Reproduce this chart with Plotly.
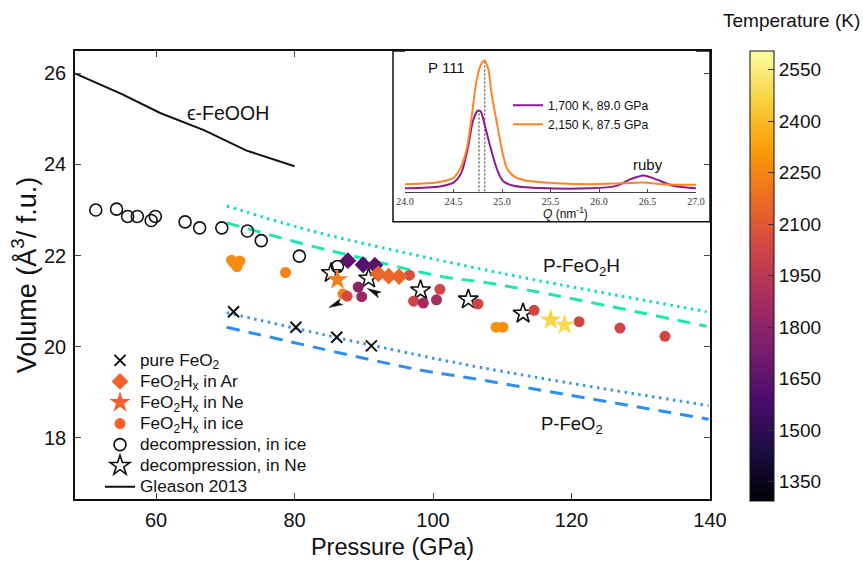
import math
import plotly.graph_objects as go

# ---------------- main panel data ----------------
gleason_p = [48.3, 55.0, 60.6, 67.0, 73.0, 80.0]
gleason_v = [26.0, 25.55, 25.13, 24.75, 24.31, 23.96]

feo2h_dash_p = [70.2, 82.2, 88.2, 101.0, 109.2, 139.5]
feo2h_dash_v = [22.72, 22.22, 22.0, 21.55, 21.37, 20.45]
feo2h_dot_p = [70.2, 80.8, 88.2, 109.7, 139.5]
feo2h_dot_v = [23.09, 22.61, 22.33, 21.62, 20.77]

feo2_dash_p = [70.2, 98.1, 103.9, 139.8]
feo2_dash_v = [20.43, 19.49, 19.35, 18.41]
feo2_dot_p = [70.2, 104.0, 139.8]
feo2_dot_v = [20.75, 19.63, 18.71]

pure_p = [71.2, 80.2, 86.1, 91.1]
pure_v = [20.77, 20.43, 20.21, 20.02]

ar_p = [87.7, 89.9, 91.6, 92.1, 93.6, 95.1]
ar_v = [21.89, 21.80, 21.79, 21.60, 21.55, 21.54]
ar_t = [1640, 1620, 1640, 2150, 2160, 2150]

ne_p = [86.2, 117.0, 119.0]
ne_v = [21.47, 20.59, 20.48]
ne_t = [2230, 2470, 2490]

ice_p = [70.9, 72.1, 71.7, 71.2, 78.7, 87.0, 87.6, 89.2, 89.7, 96.6, 97.2, 98.6,
         100.5, 101.0, 106.5, 109.1, 110.1, 114.6, 121.1, 127.0, 133.5]
ice_v = [21.90, 21.88, 21.76, 21.84, 21.63, 21.16, 21.11, 21.31, 21.10, 21.57, 21.00, 20.96,
         21.03, 21.26, 20.94, 20.43, 20.43, 20.80, 20.55, 20.41, 20.23]
ice_t = [2270, 2270, 2270, 2270, 2250, 2240, 2040, 1790, 1850, 2060, 2020, 1870,
         1880, 2030, 2030, 2280, 2280, 2030, 2030, 2030, 2030]

dec_ice_p = [51.3, 54.3, 55.9, 57.3, 59.3, 59.9, 64.2, 66.3, 69.5, 73.2, 75.2, 80.7, 86.2]
dec_ice_v = [23.00, 23.02, 22.86, 22.86, 22.77, 22.86, 22.74, 22.61, 22.61, 22.54, 22.33, 21.99, 21.76]

dec_ne_p = [85.3, 90.7, 98.2, 105.1, 113.0]
dec_ne_v = [21.62, 21.50, 21.24, 21.04, 20.73]

# arrowhead tips (data) and their pointing direction (deg, screen, 0 = right, + = up)
arrow_p = [84.95, 90.5]
arrow_v = [20.86, 21.28]
arrow_dir = [205, 153]

x_ticks = [60, 80, 100, 120, 140]
y_ticks = [18, 20, 22, 24, 26]
t_ticks = [1350, 1500, 1650, 1800, 1950, 2100, 2250, 2400, 2550]

# ---------------- inset data ----------------
q_orange = [24.0, 24.36, 24.50, 24.58, 24.64, 24.69, 24.74, 24.79, 24.82, 24.86, 24.89,
            24.95, 25.00, 25.05, 25.12, 25.22, 25.56, 25.91, 26.25, 26.46, 26.66, 27.0]
i_orange = [0.053, 0.069, 0.099, 0.179, 0.317, 0.547, 0.800, 0.915, 0.933, 0.869, 0.708,
            0.478, 0.294, 0.168, 0.110, 0.083, 0.060, 0.053, 0.060, 0.064, 0.053, 0.048]
q_purple = [24.0, 24.36, 24.50, 24.58, 24.65, 24.70, 24.75, 24.78, 24.82, 24.88, 24.95,
            25.01, 25.12, 25.39, 25.91, 26.18, 26.32, 26.46, 26.59, 26.77, 27.0]
i_purple = [0.023, 0.037, 0.064, 0.133, 0.317, 0.501, 0.575, 0.570, 0.478, 0.317, 0.156,
            0.076, 0.041, 0.025, 0.023, 0.041, 0.087, 0.115, 0.087, 0.041, 0.023]
peak_q = [24.763, 24.822]
peak_i = [0.575, 0.933]
q_ticks = [24.0, 24.5, 25.0, 25.5, 26.0, 26.5, 27.0]

FONT = "Liberation Sans"
ORANGE_LEG = "#f5602a"


def big(s, size=17.2):
    return '<span style="font-size:%spx">%s</span>' % (size, s)


fig = go.Figure()

# model lines
fig.add_trace(go.Scatter(x=feo2h_dot_p, y=feo2h_dot_v, mode="lines", showlegend=False,
                         line=dict(color="#14dcc4", width=3, dash="2.5px,4.5px", shape="spline")))
fig.add_trace(go.Scatter(x=feo2h_dash_p, y=feo2h_dash_v, mode="lines", showlegend=False,
                         line=dict(color="#22e6b0", width=3, dash="13px,9px", shape="spline")))
fig.add_trace(go.Scatter(x=feo2_dot_p, y=feo2_dot_v, mode="lines", showlegend=False,
                         line=dict(color="#3a96f0", width=3, dash="2.5px,4.5px", shape="spline")))
fig.add_trace(go.Scatter(x=feo2_dash_p, y=feo2_dash_v, mode="lines", showlegend=False,
                         line=dict(color="#2f8ff0", width=3, dash="13px,9px", shape="spline")))

# legend entries
fig.add_trace(go.Scatter(x=pure_p, y=pure_v, mode="markers", name=big("pure FeO<sub>2</sub>"),
                         marker=dict(symbol="x-thin", size=11, line=dict(color="#111", width=2))))
fig.add_trace(go.Scatter(x=[None], y=[None], mode="markers", name=big("FeO<sub>2</sub>H<sub>x</sub> in Ar"),
                         marker=dict(symbol="diamond", size=13, color=ORANGE_LEG)))
fig.add_trace(go.Scatter(x=[None], y=[None], mode="markers", name=big("FeO<sub>2</sub>H<sub>x</sub> in Ne"),
                         marker=dict(symbol="star", size=16, color=ORANGE_LEG)))
fig.add_trace(go.Scatter(x=[None], y=[None], mode="markers", name=big("FeO<sub>2</sub>H<sub>x</sub> in ice"),
                         marker=dict(symbol="circle", size=11, color=ORANGE_LEG)))
fig.add_trace(go.Scatter(x=dec_ice_p, y=dec_ice_v, mode="markers", name=big("decompression, in ice"),
                         marker=dict(symbol="circle-open", size=12, color="#111", line=dict(width=1.6))))
fig.add_trace(go.Scatter(x=dec_ne_p, y=dec_ne_v, mode="markers", name=big("decompression, in Ne"),
                         marker=dict(symbol="star-open", size=15, color="#111", line=dict(width=1.6))))
fig.add_trace(go.Scatter(x=gleason_p, y=gleason_v, mode="lines", name=big("Gleason 2013"),
                         line=dict(color="#111", width=2)))

# temperature-coloured data
fig.add_trace(go.Scatter(x=ice_p, y=ice_v, mode="markers", showlegend=False,
                         marker=dict(symbol="circle", size=11, color=ice_t, coloraxis="coloraxis")))
fig.add_trace(go.Scatter(x=ar_p, y=ar_v, mode="markers", showlegend=False,
                         marker=dict(symbol="diamond", size=13, color=ar_t, coloraxis="coloraxis")))
fig.add_trace(go.Scatter(x=ne_p, y=ne_v, mode="markers", showlegend=False,
                         marker=dict(symbol="star", size=16, color=ne_t, coloraxis="coloraxis")))

# inset
fig.add_trace(go.Scatter(x=[peak_q[0], peak_q[0]], y=[0, peak_i[0]], xaxis="x2", yaxis="y2",
                         mode="lines", showlegend=False,
                         line=dict(color="#555", width=1.3, dash="2px,2px")))
fig.add_trace(go.Scatter(x=[peak_q[1], peak_q[1]], y=[0, peak_i[1]], xaxis="x2", yaxis="y2",
                         mode="lines", showlegend=False,
                         line=dict(color="#555", width=1.3, dash="2px,2px")))
fig.add_trace(go.Scatter(x=q_purple, y=i_purple, xaxis="x2", yaxis="y2", mode="lines",
                         name=big("1,700 K, 89.0 GPa", 12.2), legend="legend2",
                         line=dict(color="#8b1a8f", width=2, shape="spline", smoothing=0.8)))
fig.add_trace(go.Scatter(x=q_orange, y=i_orange, xaxis="x2", yaxis="y2", mode="lines",
                         name=big("2,150 K, 87.5 GPa", 12.2), legend="legend2",
                         line=dict(color="#ff8427", width=2, shape="spline", smoothing=0.8)))

L, R, T, B = 75, 710, 51, 513
W, H = 863, 568


def px(xp):
    return (xp - L) / (R - L)


def py(yp):
    return (B - yp) / (B - T)


# slender dart-shaped arrowheads, drawn in pixel units around each tip
DART_LEN, DART_HALF, DART_NOTCH = 14.0, 3.2, 3.0
shapes = [dict(type="rect", xref="paper", yref="paper", x0=px(393), x1=1.0, y0=py(227), y1=1.0,
               fillcolor="white", line=dict(color="#111", width=1.5), layer="below")]
for xa, ya, ang in zip(arrow_p, arrow_v, arrow_dir):
    a = math.radians(ang)
    ux, uy = math.cos(a), math.sin(a)      # pointing direction (y up)
    nx, ny = -uy, ux
    bx, by = -ux * DART_LEN, -uy * DART_LEN
    cx, cy = -ux * (DART_LEN - DART_NOTCH), -uy * (DART_LEN - DART_NOTCH)
    path = "M0,0 L%.2f,%.2f L%.2f,%.2f L%.2f,%.2f Z" % (
        bx + nx * DART_HALF, by + ny * DART_HALF, cx, cy, bx - nx * DART_HALF, by - ny * DART_HALF)
    shapes.append(dict(type="path", xref="x", yref="y", xsizemode="pixel", ysizemode="pixel",
                       xanchor=xa, yanchor=ya, path=path, fillcolor="#111",
                       line=dict(color="#111", width=0.5)))

annotations = [
    dict(x=70.4, y=25.13, xref="x", yref="y", text="ϵ-FeOOH", font=dict(size=19.5)),
    dict(x=121.4, y=21.74, xref="x", yref="y", text="P-FeO<sub>2</sub>H", font=dict(size=19)),
    dict(x=120.1, y=18.28, xref="x", yref="y", text="P-FeO<sub>2</sub>", font=dict(size=18.5)),
    dict(x=24.43, y=0.883, xref="x2", yref="y2", text="P 111", font=dict(size=15)),
    dict(x=26.505, y=0.193, xref="x2", yref="y2", text="ruby", font=dict(size=15)),
    dict(x=px(565), y=py(218), xref="paper", yref="paper", text="<i>Q</i> (nm<sup>-1</sup>)",
         font=dict(size=12)),
    dict(x=px(791), y=py(20), xref="paper", yref="paper", text="Temperature (K)",
         font=dict(size=19)),
]
for a in annotations:
    a.update(showarrow=False, xanchor="center", yanchor="middle")

fig.update_layout(
    width=W, height=H,
    margin=dict(l=L, r=W - R, t=T, b=H - B),
    paper_bgcolor="white", plot_bgcolor="white",
    font=dict(family=FONT, color="#111"),
    xaxis=dict(range=[48.3, 140], tickvals=x_ticks, ticks="inside", ticklen=6, tickwidth=1.2,
               mirror="ticks", showline=True, linecolor="#111", linewidth=1.5,
               showgrid=False, zeroline=False, tickfont=dict(size=20), ticklabelstandoff=2,
               title=dict(text="Pressure (GPa)", font=dict(size=23.5), standoff=9)),
    yaxis=dict(range=[16.66, 26.49], tickvals=y_ticks, ticks="inside", ticklen=6, tickwidth=1.2,
               mirror="ticks", showline=True, linecolor="#111", linewidth=1.5,
               showgrid=False, zeroline=False, tickfont=dict(size=20), ticklabelstandoff=3,
               title=dict(text="Volume (Å<sup>3</sup>/ f.u.)", font=dict(size=27), standoff=0)),
    xaxis2=dict(domain=[px(405), px(696)], anchor="y2", range=[24.0, 27.0], tickvals=q_ticks,
                ticktext=["%.1f" % q for q in q_ticks], ticks="inside", ticklen=3,
                showline=True, linecolor="#444", linewidth=1.2, showgrid=False, zeroline=False,
                tickfont=dict(family="Liberation Serif", size=10, color="#333")),
    yaxis2=dict(domain=[py(196), 1.0], anchor="x2", range=[0, 1], visible=False),
    coloraxis=dict(colorscale="Inferno", cmin=1294, cmax=2604,
                   colorbar=dict(x=px(750), xanchor="left", xpad=0, ypad=0,
                                 y=(py(51) + py(515)) / 2, yanchor="middle",
                                 len=py(51) - py(515), lenmode="fraction",
                                 thickness=24, thicknessmode="pixels",
                                 outlinewidth=1, outlinecolor="#111",
                                 ticks="inside", ticklen=6, tickcolor="#333",
                                 tickvals=t_ticks, tickfont=dict(size=19))),
    legend=dict(x=px(100), y=py(354), xanchor="left", yanchor="top",
                bgcolor="rgba(0,0,0,0)", font=dict(size=13.9), tracegroupgap=0, itemwidth=30),
    legend2=dict(x=px(508), y=py(92), xanchor="left", yanchor="top",
                 bgcolor="rgba(0,0,0,0)", font=dict(size=11), itemwidth=30),
    shapes=shapes,
    annotations=annotations,
)

fig.write_html("out.html", config={"displayModeBar": False},
               post_script="document.body.style.margin='0px';")
